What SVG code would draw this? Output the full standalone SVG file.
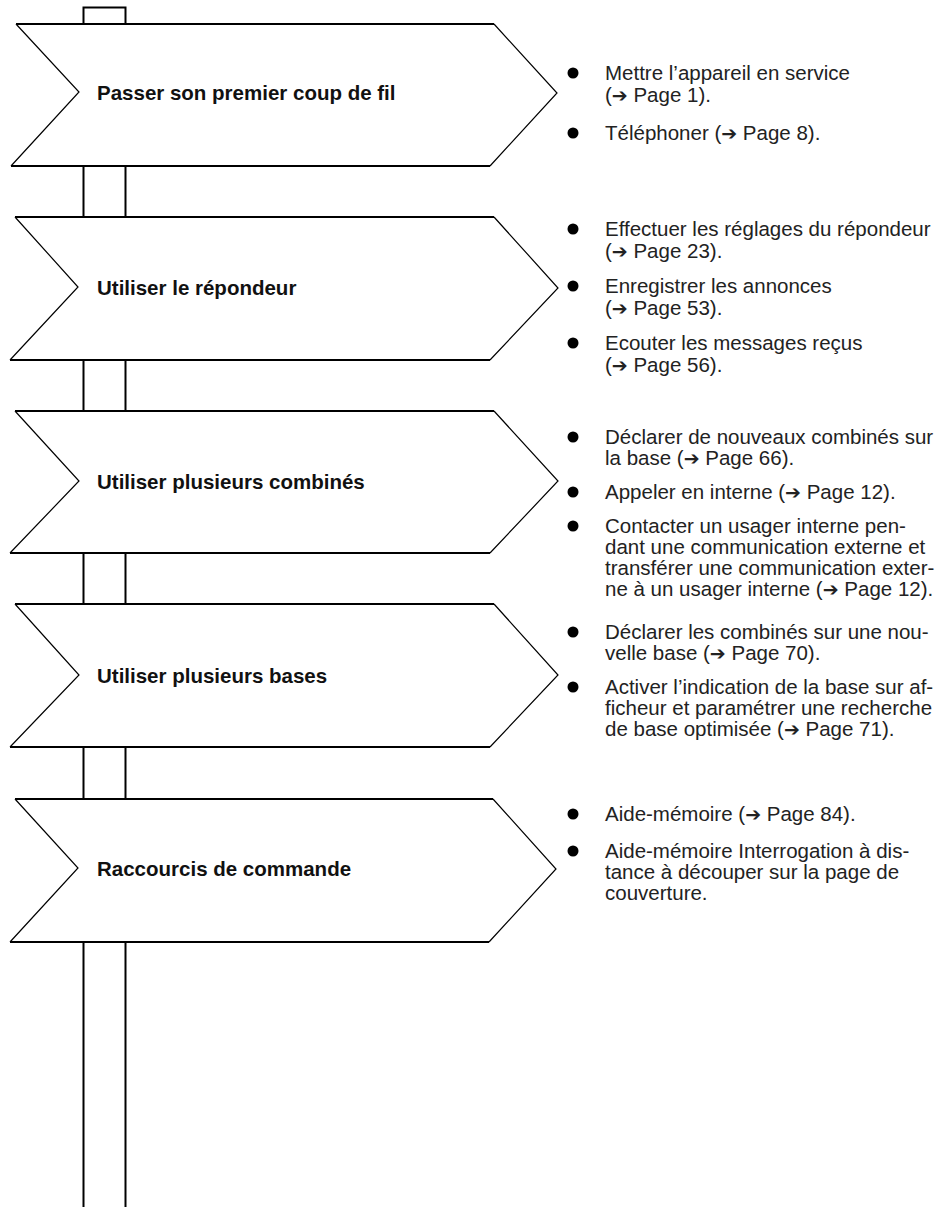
<svg xmlns="http://www.w3.org/2000/svg" width="947" height="1207" viewBox="0 0 947 1207">
<style>
.h{stroke:#000;stroke-width:2;fill:none}
.d{stroke:#000;stroke-width:1.2;fill:none}
.post{stroke:#000;stroke-width:2;fill:none}
.lbl{font-family:"Liberation Sans",Arial,sans-serif;font-weight:bold;font-size:20.5px;fill:#111}
.t{font-family:"Liberation Sans",Arial,sans-serif;font-size:20.5px;fill:#222}
.ar{font-family:"DejaVu Sans",sans-serif;font-size:19px}
.b{fill:#000}
</style>
<rect width="947" height="1207" fill="#fff"/>
<g id="connectors">
<path class="post" d="M83.5,24 V7.5 H125.5 V24"/>
<path class="post" d="M83.5,166 V217 M125.5,166 V217"/>
<path class="post" d="M83.5,360 V411 M125.5,360 V411"/>
<path class="post" d="M83.5,553 V604 M125.5,553 V604"/>
<path class="post" d="M83.5,747 V799 M125.5,747 V799"/>
<path class="post" d="M83.5,942 V1207 M125.5,942 V1207"/>
</g>
<g id="sign1">
<path class="h" d="M16,24 H494 M11,166 H490"/>
<path class="d" d="M16,24 L79,92 L11,166 M494,24 L557,93 L490,166"/>
<text class="lbl" x="97" y="100">Passer son premier coup de fil</text>
<circle class="b" cx="573" cy="73" r="5.5"/>
<circle class="b" cx="573" cy="133" r="5.5"/>
<text class="t" x="605" y="80">Mettre l’appareil en service</text>
<text class="t" x="605" y="102">(<tspan class="ar">➔</tspan> Page 1).</text>
<text class="t" x="605" y="140">Téléphoner (<tspan class="ar">➔</tspan> Page 8).</text>
</g>
<g id="sign2">
<path class="h" d="M15,217 H494 M10,360 H490"/>
<path class="d" d="M15,217 L78,287 L10,360 M494,217 L558,288 L490,360"/>
<text class="lbl" x="97" y="295">Utiliser le répondeur</text>
<circle class="b" cx="573" cy="229" r="5.5"/>
<circle class="b" cx="573" cy="286" r="5.5"/>
<circle class="b" cx="573" cy="343" r="5.5"/>
<text class="t" x="605" y="236">Effectuer les réglages du répondeur</text>
<text class="t" x="605" y="258">(<tspan class="ar">➔</tspan> Page 23).</text>
<text class="t" x="605" y="293">Enregistrer les annonces</text>
<text class="t" x="605" y="315">(<tspan class="ar">➔</tspan> Page 53).</text>
<text class="t" x="605" y="350">Ecouter les messages reçus</text>
<text class="t" x="605" y="372">(<tspan class="ar">➔</tspan> Page 56).</text>
</g>
<g id="sign3">
<path class="h" d="M15,411 H494 M10,553 H490"/>
<path class="d" d="M15,411 L79,481 L10,553 M494,411 L558,481 L490,553"/>
<text class="lbl" x="97" y="489">Utiliser plusieurs combinés</text>
<circle class="b" cx="573" cy="437" r="5.5"/>
<circle class="b" cx="573" cy="492" r="5.5"/>
<circle class="b" cx="573" cy="526" r="5.5"/>
<text class="t" x="605" y="444">Déclarer de nouveaux combinés sur</text>
<text class="t" x="605" y="465">la base (<tspan class="ar">➔</tspan> Page 66).</text>
<text class="t" x="605" y="499">Appeler en interne (<tspan class="ar">➔</tspan> Page 12).</text>
<text class="t" x="605" y="533">Contacter un usager interne pen-</text>
<text class="t" x="605" y="554">dant une communication externe et</text>
<text class="t" x="605" y="575">transférer une communication exter-</text>
<text class="t" x="605" y="596">ne à un usager interne (<tspan class="ar">➔</tspan> Page 12).</text>
</g>
<g id="sign4">
<path class="h" d="M15,604 H494 M10,747 H490"/>
<path class="d" d="M15,604 L79,675 L10,747 M494,604 L558,675 L490,747"/>
<text class="lbl" x="97" y="683">Utiliser plusieurs bases</text>
<circle class="b" cx="573" cy="632" r="5.5"/>
<circle class="b" cx="573" cy="687" r="5.5"/>
<text class="t" x="605" y="639">Déclarer les combinés sur une nou-</text>
<text class="t" x="605" y="660">velle base (<tspan class="ar">➔</tspan> Page 70).</text>
<text class="t" x="605" y="694">Activer l’indication de la base sur af-</text>
<text class="t" x="605" y="715">ficheur et paramétrer une recherche</text>
<text class="t" x="605" y="736">de base optimisée (<tspan class="ar">➔</tspan> Page 71).</text>
</g>
<g id="sign5">
<path class="h" d="M15,799 H493 M10,942 H489"/>
<path class="d" d="M15,799 L78,868 L10,942 M493,799 L556,869 L489,942"/>
<text class="lbl" x="97" y="876">Raccourcis de commande</text>
<circle class="b" cx="573" cy="814" r="5.5"/>
<circle class="b" cx="573" cy="851" r="5.5"/>
<text class="t" x="605" y="821">Aide-mémoire (<tspan class="ar">➔</tspan> Page 84).</text>
<text class="t" x="605" y="858">Aide-mémoire Interrogation à dis-</text>
<text class="t" x="605" y="879">tance à découper sur la page de</text>
<text class="t" x="605" y="900">couverture.</text>
</g>
</svg>
